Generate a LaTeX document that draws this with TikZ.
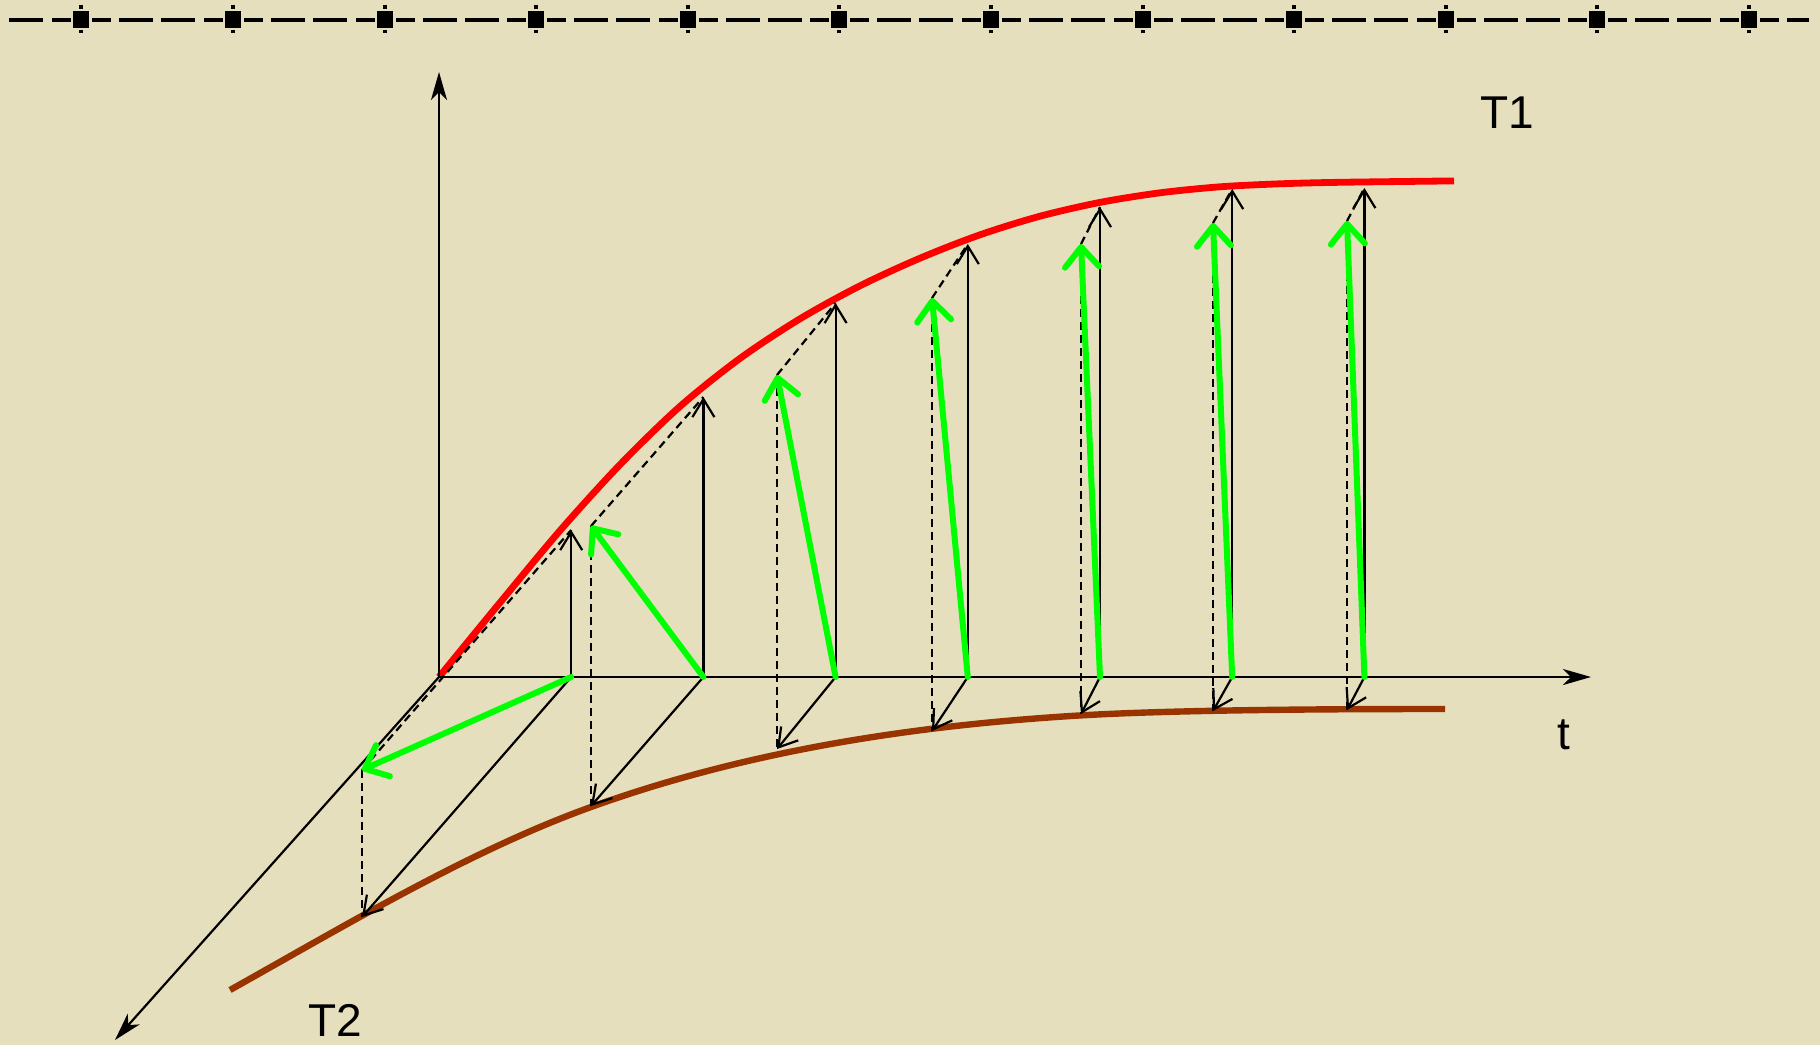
\documentclass[tikz,border=0pt]{standalone}
\usepackage{fontspec}
\setmainfont{Liberation Sans}
\usetikzlibrary{arrows.meta,calc}
\definecolor{bg}{RGB}{229,223,189}
\definecolor{tone}{RGB}{255,0,0}
\definecolor{ttwo}{RGB}{153,51,0}
\definecolor{vgreen}{RGB}{0,255,0}
\begin{document}
\begin{tikzpicture}[x=0.5pt,y=-0.5pt,
  thinvec/.style={line width=1.1pt,-{Straight Barb[length=9pt,width=11pt]}},
  axisline/.style={line width=1.1pt,-{Stealth[length=14pt,width=8pt,inset=4pt]}},
  helper/.style={line width=1.1pt,dash pattern=on 4pt off 2.5pt},
  resvec/.style={line width=3pt,vgreen,line cap=round,-{Straight Barb[length=10pt,width=17pt,round]}},
  curveone/.style={line width=3.4pt,tone},
  curvetwo/.style={line width=3.2pt,ttwo},
  lab/.style={font=\fontsize{23}{27}\selectfont,inner sep=0pt}
]
\fill[bg] (0,0) rectangle (1820,1045);
\useasboundingbox (0,0) rectangle (1820,1045);

% top decorative dashed line
\fill (9,17.8) rectangle (43,22.2);
\foreach \k in {0,...,11}{
  \pgfmathsetmacro{\cx}{81.3+151.6*\k}
  \fill (\cx-29,17.8) rectangle (\cx-10,22.2);
  \fill (\cx-8,11) rectangle (\cx+8,28);
  \fill (\cx-2,5) rectangle (\cx+2,9);
  \fill (\cx-2,30) rectangle (\cx+2,32.5);
  \fill (\cx+11,17.8) rectangle (\cx+30,22.2);
}
\foreach \k in {0,...,10}{
  \pgfmathsetmacro{\cx}{81.3+151.6*\k}
  \fill (\cx+38,17.8) rectangle (\cx+72,22.2);
  \fill (\cx+80,17.8) rectangle (\cx+114,22.2);
}
\fill (1787,17.8) rectangle (1809,22.2);

% key points
\coordinate (O) at (439,677);
\coordinate (Ytop) at (439,72);
\coordinate (Tend) at (1591,677);
\coordinate (Zend) at (115,1040);

\coordinate (T1) at (571.2,677);  \coordinate (V1) at (571.2,530); \coordinate (D1) at (362,917);
\coordinate (T2) at (703.4,677);  \coordinate (V2) at (703.4,397); \coordinate (D2) at (591,806);
\coordinate (T3) at (835.6,677);  \coordinate (V3) at (835.6,303); \coordinate (D3) at (777,749);
\coordinate (T4) at (967.8,677);  \coordinate (V4) at (967.8,244); \coordinate (D4) at (932,731);
\coordinate (T5) at (1100,677);   \coordinate (V5) at (1100,207);  \coordinate (D5) at (1081,714);
\coordinate (T6) at (1232.2,677); \coordinate (V6) at (1232.2,189);\coordinate (D6) at (1213,711);
\coordinate (T7) at (1364.4,677); \coordinate (V7) at (1364.4,188);\coordinate (D7) at (1347,710);
\foreach \i in {1,...,7}{
  \coordinate (G\i) at ($(V\i)+(D\i)-(T\i)$);
}

% curves
\draw[curvetwo] (230,990) .. controls (350,922.8) and (471,850.2) .. (591,807)
  .. controls (751,749.4) and (919,725.1) .. (1079,715.5)
  .. controls (1179,709.5) and (1345,709) .. (1445,709);
\draw[curveone] plot[smooth,tension=0.5] coordinates {(439,677) (500,602.6) (560,530.6) (620,464.6) (680,406.4) (740,358.4) (800,318.8) (860,285.8) (920,258.2) (980,234.8) (1040,216.2) (1100,202.4) (1160,192.8) (1220,186.8) (1280,183.8) (1340,182.3) (1454,180.9)};

% axes
\draw[axisline] (O) -- (Ytop);
\draw[axisline] (O) -- (Tend);
\draw[axisline] (O) -- (Zend);

% component vectors and parallelogram sides
\foreach \i in {1,...,7}{
  \draw[thinvec] (T\i) -- (V\i);
  \draw[thinvec] (T\i) -- (D\i);
  \draw[helper] (G\i) -- (D\i);
  \draw[helper] (G\i) -- (V\i);
}
% resulting vectors
\foreach \i in {1,...,7}{
  \draw[resvec] (T\i) -- (G\i);
}

% labels
\node[lab] (labA) at (1507,113) {T1};
\node[lab] (labB) at (335,1020) {T2};
\node[lab] (labt) at (1563.5,735) {t};
\end{tikzpicture}
\end{document}
